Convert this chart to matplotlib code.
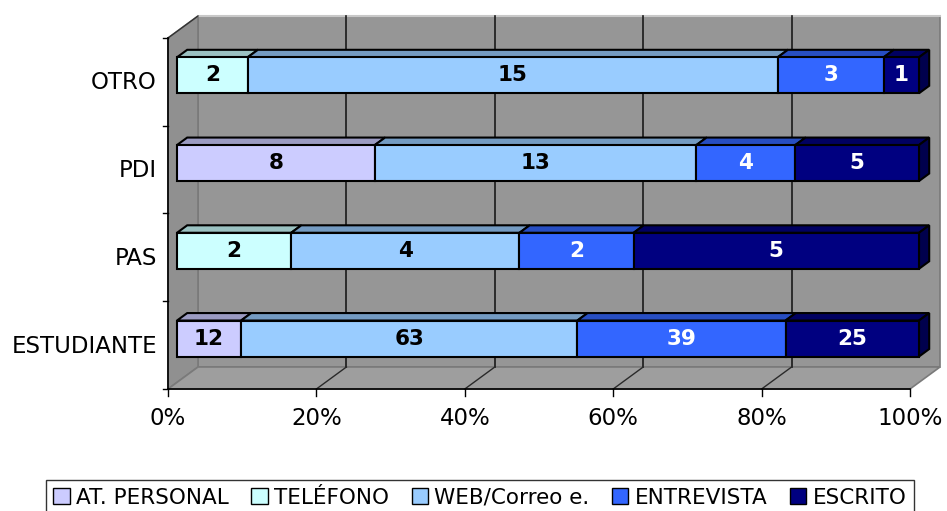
import matplotlib
matplotlib.use("Agg")
import matplotlib.pyplot as plt
from matplotlib.patches import Polygon, Patch
import numpy as np

# ---------------- data ----------------
categories = ["ESTUDIANTE", "PAS", "PDI", "OTRO"]          # bottom -> top
series = ["AT. PERSONAL", "TELÉFONO", "WEB/Correo e.", "ENTREVISTA", "ESCRITO"]
at_personal = [12, 0, 8, 0]
telefono    = [0, 2, 0, 2]
web_correo  = [63, 4, 13, 15]
entrevista  = [39, 2, 4, 3]
escrito     = [25, 5, 5, 1]
xtick_labels = ["0%", "20%", "40%", "60%", "80%", "100%"]

colors = ["#CCCCFF", "#CCFFFF", "#99CCFF", "#3366FF", "#000080"]
label_colors = ["black", "black", "black", "white", "white"]

values = np.array([at_personal, telefono, web_correo, entrevista, escrito], dtype=float)
pct = values / values.sum(axis=0) * 100.0

# ---------------- geometry ----------------
W, H = 947, 511
fig = plt.figure(figsize=(W / 100, H / 100), dpi=100)
ax = fig.add_axes([0, 0, 1, 1])
PX_PER_PCT = 7.42
X0_PX = 168
PX_PER_CAT = 87.75
Y0_PX = 389
ax.set_xlim(-X0_PX / PX_PER_PCT, (W - X0_PX) / PX_PER_PCT)
ax.set_ylim((Y0_PX - H) / PX_PER_CAT, Y0_PX / PX_PER_CAT)
ax.axis("off")

DX = 30 / PX_PER_PCT      # depth offset (x) for full depth
DY = 22 / PX_PER_CAT      # depth offset (y) for full depth
NCAT = len(categories)


def P(x, y, z):
    return (x + z * DX, y + z * DY)


def shade(c, f):
    r, g, b = matplotlib.colors.to_rgb(c)
    return (r * f, g * f, b * f)


# walls
wall = "#969696"
floor_c = "#9e9e9e"
edge = "#7a7a7a"
ax.add_patch(Polygon([P(0, 0, 1), P(100, 0, 1), P(100, NCAT, 1), P(0, NCAT, 1)],
                     closed=True, fc=wall, ec=edge, lw=1.2, zorder=1))
ax.add_patch(Polygon([P(0, 0, 0), P(0, 0, 1), P(0, NCAT, 1), P(0, NCAT, 0)],
                     closed=True, fc="#909090", ec=edge, lw=1.2, zorder=1))
ax.add_patch(Polygon([P(0, 0, 0), P(100, 0, 0), P(100, 0, 1), P(0, 0, 1)],
                     closed=True, fc=floor_c, ec=edge, lw=1.2, zorder=1))
# light top edge of wall
xa, ya = zip(P(0, NCAT, 1), P(100, NCAT, 1))
ax.plot(xa, ya, color="#c8c8c8", lw=1.5, zorder=1.5)
xa, ya = zip(P(0, NCAT, 0), P(0, NCAT, 1))
ax.plot(xa, ya, color="#333333", lw=1.0, zorder=1.5)

# gridlines
for g in range(20, 100, 20):
    xa, ya = zip(P(g, 0, 1), P(g, NCAT, 1))
    ax.plot(xa, ya, color="#1a1a1a", lw=1.2, zorder=2)
    xa, ya = zip(P(g, 0, 0), P(g, 0, 1))
    ax.plot(xa, ya, color="#2a2a2a", lw=1.0, zorder=2)

# axes lines
ax.plot([0, 0], [0, NCAT], color="black", lw=1.2, zorder=2)
ax.plot([0, 100], [0, 0], color="black", lw=1.2, zorder=2)
for i in range(NCAT + 1):
    ax.plot([-5 / PX_PER_PCT, 0], [i, i], color="black", lw=1.0, zorder=2)
for k in range(6):
    ax.plot([k * 20, k * 20], [0, -7 / PX_PER_CAT], color="black", lw=1.0, zorder=2)
    ax.text(k * 20, -29 / PX_PER_CAT, xtick_labels[k], ha="center", va="center",
            fontsize=16.5, family="DejaVu Sans")

for i, c in enumerate(categories):
    ax.text(-11 / PX_PER_PCT, i + 0.5 - 0.01, c, ha="right", va="center",
            fontsize=16.5, family="DejaVu Sans")

# bars
ZF, ZB = 0.30, 0.64
HH = 0.205
for i in range(NCAT):
    yc = i + 0.5
    left = 0.0
    last = None
    for s in range(len(series)):
        w = pct[s, i]
        if w <= 0:
            continue
        right = left + w
        top = [P(left, yc + HH, ZF), P(right, yc + HH, ZF),
               P(right, yc + HH, ZB), P(left, yc + HH, ZB)]
        ax.add_patch(Polygon(top, closed=True, fc=shade(colors[s], 0.76),
                             ec="black", lw=1.5, zorder=3, joinstyle="miter"))
        front = [P(left, yc - HH, ZF), P(right, yc - HH, ZF),
                 P(right, yc + HH, ZF), P(left, yc + HH, ZF)]
        ax.add_patch(Polygon(front, closed=True, fc=colors[s],
                             ec="black", lw=1.5, zorder=4, joinstyle="miter"))
        cx, cy = P((left + right) / 2, yc, ZF)
        ax.text(cx, cy, f"{int(values[s, i])}", ha="center", va="center",
                fontsize=15.5, fontweight="bold", color=label_colors[s],
                family="DejaVu Sans", zorder=6)
        last = s
        left = right
    side = [P(100, yc - HH, ZF), P(100, yc - HH, ZB),
            P(100, yc + HH, ZB), P(100, yc + HH, ZF)]
    ax.add_patch(Polygon(side, closed=True, fc=shade(colors[last], 0.6),
                         ec="black", lw=1.5, zorder=3, joinstyle="miter"))

# legend
handles = [Patch(fc=c, ec="black", lw=1.0) for c in colors]
leg = fig.legend(handles, series, ncol=5, loc="upper center",
                 bbox_to_anchor=(480 / W, 1 - 480 / H), frameon=True,
                 fancybox=False, edgecolor="black", fontsize=15.5,
                 handlelength=0.75, handleheight=0.75, handletextpad=0.3,
                 columnspacing=1.05, borderpad=0.35, borderaxespad=0)
leg.get_frame().set_linewidth(1.0)
for t in leg.get_texts():
    t.set_family("DejaVu Sans")

fig.savefig("out.png", dpi=100)
